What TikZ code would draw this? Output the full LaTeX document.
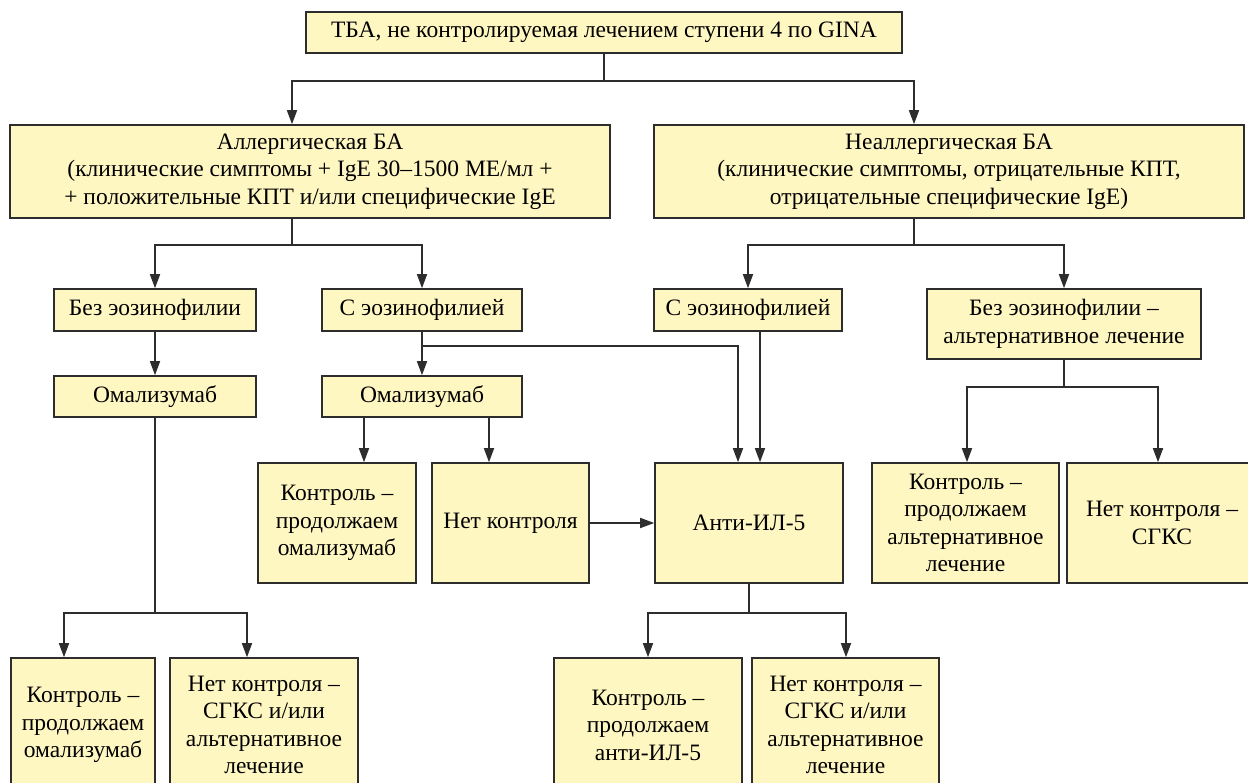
\documentclass[tikz,border=0pt]{standalone}
\usepackage{fontspec}
\setmainfont{LiberationSerif}[Extension=.ttf, UprightFont=*-Regular, BoldFont=*-Bold]
\usetikzlibrary{arrows.meta}
\definecolor{boxfill}{RGB}{255,247,194}
\definecolor{ink}{RGB}{45,45,45}
\newcommand{\boxat}[6]{%
  \node[box, minimum width={(#4-#2)*1pt}, minimum height={(#5-#3)*1pt}] (#1) at ({(#2+#4)/2},{(#3+#5)/2}) {#6};}
\begin{document}
\begin{tikzpicture}[x=1pt,y=-1pt,
  box/.style={draw=ink, line width=1.6pt, fill=boxfill, inner sep=0pt, align=center, text=black,
    font=\rmfamily\fontsize{23.5}{27.5}\selectfont},
  conn/.style={draw=ink, line width=1.6pt},
  arr/.style={conn, -{Triangle[length=14pt,width=10pt]}}]
\useasboundingbox (0,0) rectangle (1248,783);
\clip (0,0) rectangle (1248,783);
\fill[white] (0,0) rectangle (1248,783);
% boxes
\boxat{top}{306}{12}{902}{53}{ТБА, не контролируемая лечением ступени 4 по GINA}
\boxat{allerg}{10}{125}{610}{218}{Аллергическая БА\\(клинические симптомы + IgE 30–1500 МЕ/мл +\\+ положительные КПТ и/или специфические IgE}
\boxat{nonall}{654}{125}{1244}{218}{Неаллергическая БА\\(клинические симптомы, отрицательные КПТ,\\отрицательные специфические IgE)}
\boxat{bez1}{54}{289}{256}{331}{Без эозинофилии}
\boxat{seo1}{322}{289}{522}{331}{С эозинофилией}
\boxat{seo2}{654}{289}{842}{331}{С эозинофилией}
\boxat{bezalt}{927}{289}{1201}{359}{Без эозинофилии –\\альтернативное лечение}
\boxat{oma1}{54}{376}{256}{417}{Омализумаб}
\boxat{oma2}{322}{376}{522}{417}{Омализумаб}
\boxat{kon1}{258}{463}{416}{583}{Контроль –\\продолжаем\\омализумаб}
\boxat{net1}{432}{463}{589}{583}{Нет контроля}
\boxat{anti}{655}{463}{843}{583}{Анти-ИЛ-5}
\boxat{konalt}{872}{463}{1059}{583}{Контроль –\\продолжаем\\альтернативное\\лечение}
\boxat{netsgks}{1067}{463}{1257}{583}{Нет контроля –\\СГКС}
\boxat{konbot1}{11}{658}{155}{792}{Контроль –\\продолжаем\\омализумаб}
\boxat{netbot1}{170}{658}{358}{792}{Нет контроля –\\СГКС и/или\\альтернативное\\лечение}
\boxat{konanti}{554}{658}{742}{792}{Контроль –\\продолжаем\\анти-ИЛ-5}
\boxat{netbot2}{752}{658}{939}{792}{Нет контроля –\\СГКС и/или\\альтернативное\\лечение}
% junction coordinates
\coordinate (a1) at (292,81);
\coordinate (a2) at (914,81);
\coordinate (b1) at (155,245);
\coordinate (b2) at (422,245);
\coordinate (c1) at (748,245);
\coordinate (c2) at (1064,245);
\coordinate (d1) at (738,346);
\coordinate (d2) at (760,346);
\coordinate (e1) at (364,417);
\coordinate (e2) at (489,417);
\coordinate (f1) at (967,387);
\coordinate (f2) at (1158,387);
\coordinate (g1) at (64,613);
\coordinate (g2) at (247,613);
\coordinate (h1) at (648,613);
\coordinate (h2) at (846,613);
% connectors
\draw[arr] (top.south) |- (a1) -- (allerg.north -| a1);
\draw[arr] (top.south |- a2) -- (a2) -- (nonall.north -| a2);
\draw[arr] (allerg.south -| a1) |- (b1) -- (bez1.north -| b1);
\draw[arr] (b1 -| a1) -- (b2) -- (seo1.north -| b2);
\draw[arr] (nonall.south -| a2) |- (c1) -- (seo2.north -| c1);
\draw[arr] (c1 -| a2) -- (c2) -- (bezalt.north -| c2);
\draw[arr] (bez1) -- (oma1);
\draw[arr] (seo1) -- (oma2);
\draw[arr] (seo1.south |- d1) -- (d1) -- (anti.north -| d1);
\draw[arr] (seo2.south -| d2) -- (anti.north -| d2);
\draw[arr] (oma2.south -| e1) -- (kon1.north -| e1);
\draw[arr] (oma2.south -| e2) -- (net1.north -| e2);
\draw[arr] (net1.east) -- (anti.west);
\draw[arr] (bezalt.south) |- (f1) -- (konalt.north -| f1);
\draw[arr] (bezalt.south |- f2) -- (f2) -- (netsgks.north -| f2);
\draw[arr] (oma1.south) |- (g1) -- (konbot1.north -| g1);
\draw[arr] (oma1.south |- g2) -- (g2) -- (netbot1.north -| g2);
\draw[arr] (anti.south) |- (h1) -- (konanti.north -| h1);
\draw[arr] (anti.south |- h2) -- (h2) -- (netbot2.north -| h2);
\end{tikzpicture}
\end{document}
